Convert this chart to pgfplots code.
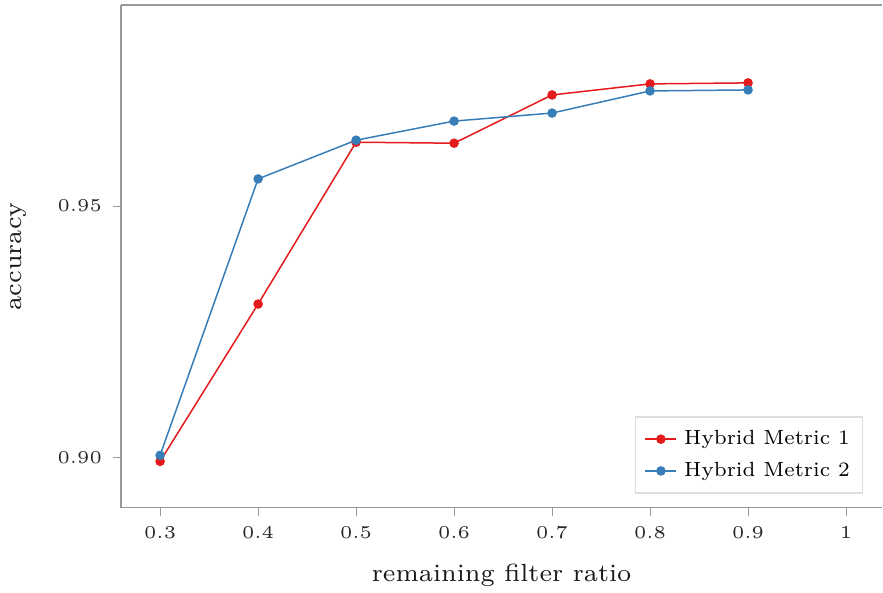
\documentclass[border=0pt]{standalone}
\usepackage{pgfplots}
\pgfplotsset{compat=1.18}
\DeclareFontFamily{TU}{lmrfive}{}
\DeclareFontShape{TU}{lmrfive}{m}{n}{<-> "[lmroman5-regular]:+tlig;"}{}
\DeclareFontFamily{TU}{lmrseven}{}
\DeclareFontShape{TU}{lmrseven}{m}{n}{<-> "[lmroman7-regular]:+tlig;"}{}
\definecolor{setred}{HTML}{E41A1C}
\definecolor{setblue}{HTML}{377EB8}
\definecolor{axgray}{HTML}{999999}
\pgfplotstableread{
x y
0.3 0.8992
0.4 0.9305
0.5 0.9627
0.6 0.9625
0.7 0.9721
0.8 0.9743
0.9 0.9745
}\hmone
\pgfplotstableread{
x y
0.3 0.9004
0.4 0.9554
0.5 0.9631
0.6 0.9669
0.7 0.9685
0.8 0.9729
0.9 0.9731
}\hmtwo
\begin{document}
\begin{tikzpicture}
\begin{axis}[
  scale only axis,
  width=381bp, height=251.5bp,
  xmin=0.26, xmax=1.037, ymin=0.89, ymax=0.99,
  axis x line*=box, axis y line*=left,
  axis line style={axgray, line width=0.7bp},
  xtick={0.3,0.4,0.5,0.6,0.7,0.8,0.9,1},
  xticklabels={0.3,0.4,0.5,0.6,0.7,0.8,0.9,1},
  ytick={0.90,0.95},
  yticklabels={0.90,0.95},
  tick pos=lower,
  tick align=outside,
  major tick length=4bp,
  tick style={axgray, line width=0.5bp},
  xticklabel style={yshift=-2bp},
  yticklabel style={xshift=-2bp},
  tick label style={font=\fontfamily{lmrfive}\fontsize{9.1}{11}\selectfont, text=black!85},
  xlabel={remaining filter ratio},
  ylabel={accuracy},
  label style={font=\fontfamily{lmrseven}\fontsize{12.5}{14}\selectfont, text=black!90, inner sep=0pt},
  xlabel style={at={(axis description cs:0.5,-0.1471)}, anchor=base},
  ylabel style={at={(axis description cs:-0.1339,0.5)}, anchor=center},
  legend style={at={(rel axis cs:1,0)}, anchor=south east, xshift=-9.5bp, yshift=7bp,
    draw=black!13, line width=0.6bp, fill=white,
    font=\fontfamily{lmrseven}\fontsize{10.3}{12}\selectfont,
    inner xsep=4.5bp, inner ysep=4.75bp, row sep=3.3bp, column sep=1.5bp},
  legend cell align=left,
  legend image code/.code={
    \draw[#1, mark repeat=2, mark phase=2] plot coordinates {(0cm,0cm) (0.275cm,0cm) (0.55cm,0cm)};
  },
]
\addplot[setred, line width=0.75bp, mark=*, mark size=2bp, mark options={solid, fill=setred, draw=setred}] table[x=x,y=y]{\hmone};
\addlegendentry{Hybrid Metric 1\hspace{3bp}}
\addplot[setblue, line width=0.75bp, mark=*, mark size=2bp, mark options={solid, fill=setblue, draw=setblue}] table[x=x,y=y]{\hmtwo};
\addlegendentry{Hybrid Metric 2\hspace{3bp}}
\end{axis}
\path (current axis.north) +(0,2.5bp);
\path (current axis.south west) +(-60.5bp,-42.5bp);
\end{tikzpicture}
\end{document}
